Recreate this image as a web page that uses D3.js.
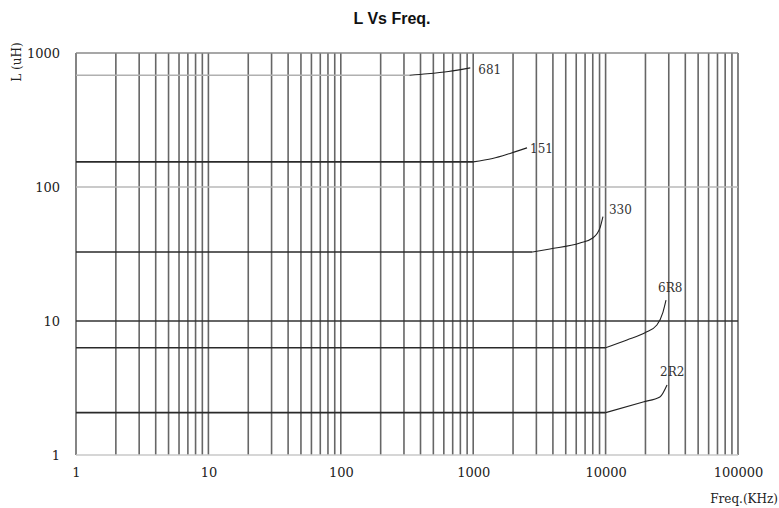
<!DOCTYPE html>
<html>
<head>
<meta charset="utf-8">
<script src="https://cdn.jsdelivr.net/npm/d3@7"></script>
<style>
  html, body { margin: 0; padding: 0; background: #fff; }
  svg { display: block; }
</style>
</head>
<body>
<svg id="chart" width="779" height="508"></svg>
<script>
// Inductance vs frequency curves for several inductor values
const seriesNames = ["681", "151", "330", "6R8", "2R2"];
const freqs681 = [1, 330, 450, 650, 950];
const vals681  = [683, 683, 700, 728, 775];
const freqs151 = [1, 1000, 1400, 1900, 2550];
const vals151  = [154, 154, 163, 178, 196];
const freqs330 = [1, 2800, 3800, 6400, 8000, 9100, 9550];
const vals330  = [32.7, 32.7, 34.5, 38.2, 41.6, 50, 60];
const freqs6R8 = [1, 10000, 14500, 20000, 24400, 27100, 28600];
const vals6R8  = [6.32, 6.32, 7.22, 8.2, 9.33, 11.6, 14.3];
const freqs2R2 = [1, 10000, 19200, 25700, 29100];
const vals2R2  = [2.07, 2.07, 2.49, 2.71, 3.33];

const xTickValues = [1, 10, 100, 1000, 10000, 100000];
const yTickValues = [1, 10, 100, 1000];

const seriesFreqs = [freqs681, freqs151, freqs330, freqs6R8, freqs2R2];
const seriesVals = [vals681, vals151, vals330, vals6R8, vals2R2];
// label placement relative to the end of each curve (px)
const labelOffsets = [[8, 3], [3, 2], [6, -6], [-8, -12], [-7, -12]];

const svg = d3.select("#chart");
const plotLeft = 76, plotRight = 738, plotTop = 53, plotBottom = 455;

const x = d3.scaleLog().domain([1, 100000]).range([plotLeft, plotRight]);
const y = d3.scaleLog().domain([1, 1000]).range([plotBottom, plotTop]);

// vertical grid: every 1..9 x 10^k
const vGrid = [];
for (let k = 0; k < 5; k++) for (let i = 1; i <= 9; i++) vGrid.push(i * Math.pow(10, k));
vGrid.push(100000);

svg.append("g").selectAll("line").data(vGrid).join("line")
  .attr("x1", d => x(d)).attr("x2", d => x(d))
  .attr("y1", plotTop).attr("y2", plotBottom)
  .attr("stroke", "#666").attr("stroke-width", 1.6);

// horizontal reference lines
const hGrid = [
  { v: 1, c: "#c8c8c8" },
  { v: 10, c: "#333" },
  { v: 100, c: "#b8b8b8" },
  { v: 1000, c: "#8a8a8a" }
];
svg.append("g").selectAll("line").data(hGrid).join("line")
  .attr("x1", plotLeft).attr("x2", plotRight)
  .attr("y1", d => y(d.v)).attr("y2", d => y(d.v))
  .attr("stroke", d => d.c).attr("stroke-width", 1.6);

// curves
const line = d3.line().x(d => x(d[0])).y(d => y(d[1])).curve(d3.curveMonotoneX);
const curves = svg.append("g");
seriesNames.forEach((name, i) => {
  const pts = seriesFreqs[i].map((f, j) => [f, seriesVals[i][j]]);
  const flatColor = i === 0 ? "#b0b0b0" : "#2a2a2a";
  curves.append("path").attr("d", line(pts.slice(0, 2)))
    .attr("fill", "none").attr("stroke", flatColor).attr("stroke-width", 1.6);
  curves.append("path").attr("d", line(pts.slice(1)))
    .attr("fill", "none").attr("stroke", "#222").attr("stroke-width", 1.1);
  const end = pts[pts.length - 1];
  curves.append("text")
    .attr("x", x(end[0]) + labelOffsets[i][0])
    .attr("y", y(end[1]) + labelOffsets[i][1])
    .attr("dominant-baseline", "middle")
    .attr("font-family", "DejaVu Serif")
    .attr("font-size", 12)
    .attr("fill", "#333")
    .text(name);
});

// axes (labels only)
const xAxis = d3.axisBottom(x).tickValues(xTickValues).tickFormat(d3.format("d")).tickSize(0).tickPadding(13);
const gx = svg.append("g").attr("transform", `translate(0,${plotBottom})`).call(xAxis);
gx.select(".domain").remove();
gx.selectAll("text").attr("font-family", "DejaVu Serif").attr("font-size", 13).attr("fill", "#222");

const yAxis = d3.axisLeft(y).tickValues(yTickValues).tickFormat(d3.format("d")).tickSize(0).tickPadding(16);
const gy = svg.append("g").attr("transform", `translate(${plotLeft},0)`).call(yAxis);
gy.select(".domain").remove();
gy.selectAll("text").attr("font-family", "DejaVu Serif").attr("font-size", 13).attr("fill", "#222");

// titles
svg.append("text").attr("x", 392).attr("y", 24)
  .attr("text-anchor", "middle")
  .attr("font-family", "Liberation Sans, Arial, sans-serif")
  .attr("font-weight", "bold").attr("font-size", 16)
  .attr("fill", "#111").text("L Vs Freq.");

svg.append("text")
  .attr("transform", "translate(21,62) rotate(-90)")
  .attr("text-anchor", "middle")
  .attr("font-family", "DejaVu Serif").attr("font-size", 12)
  .attr("fill", "#222").text("L (uH)");

svg.append("text").attr("x", 778).attr("y", 503)
  .attr("text-anchor", "end")
  .attr("font-family", "DejaVu Serif").attr("font-size", 12)
  .attr("fill", "#222").text("Freq.(KHz)");
</script>
</body>
</html>
